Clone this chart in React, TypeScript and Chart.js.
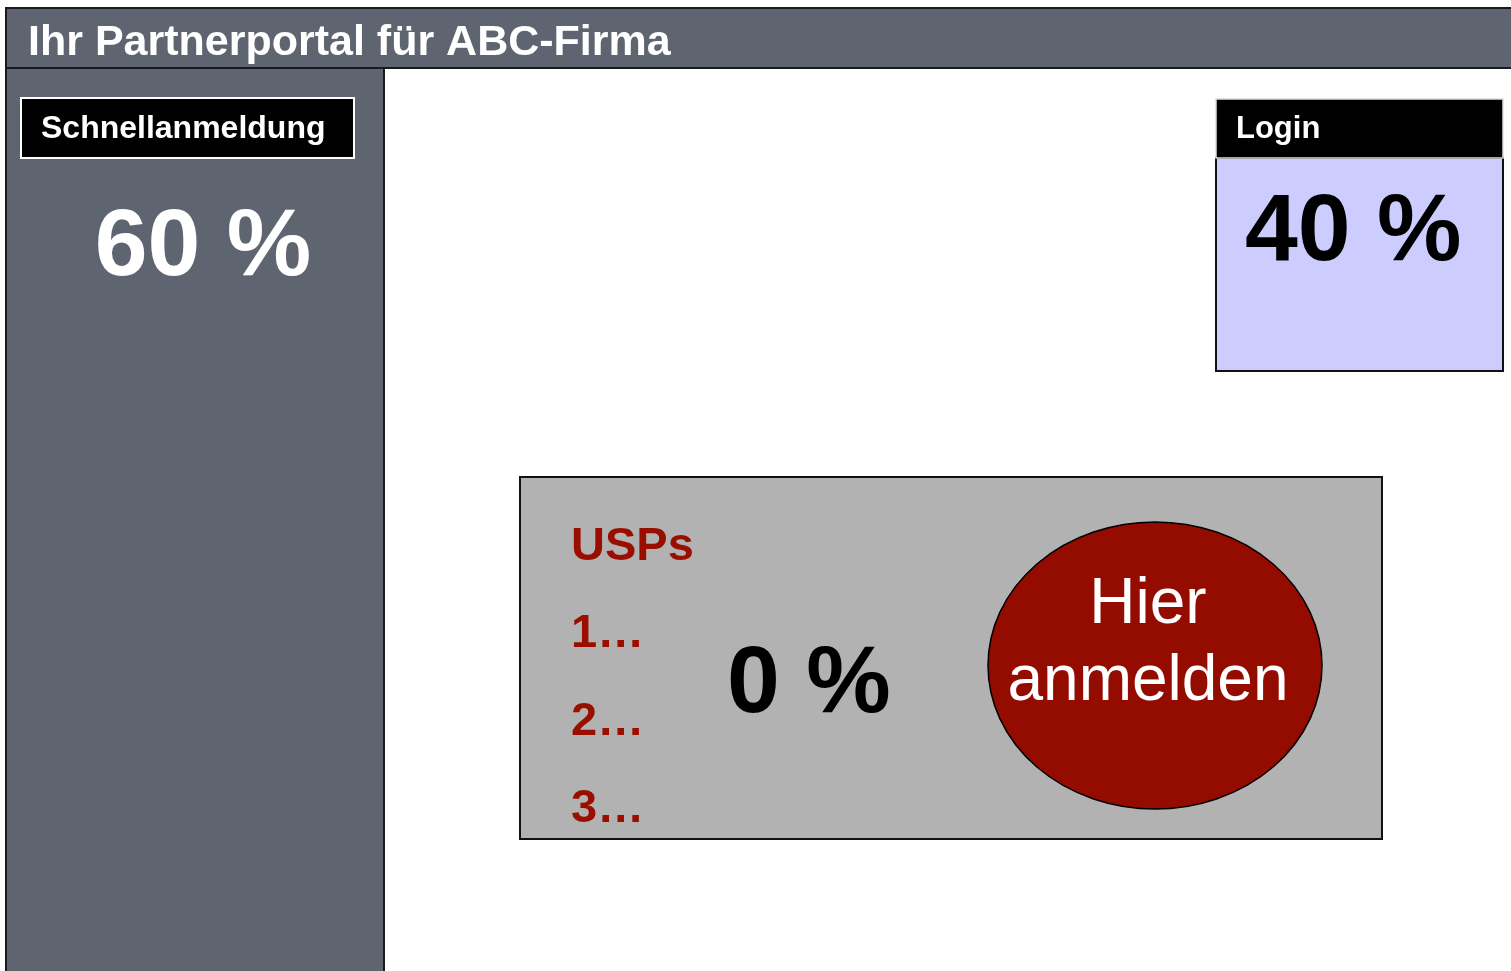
import React, { useEffect, useRef } from "react";
import { Chart, registerables } from "chart.js";

Chart.register(...registerables);

// ---- data ----
const pageTitle = "Ihr Partnerportal für ABC-Firma";
const regionLabels = ["Schnellanmeldung", "Login", "USPs"];
const attentionShare = [60, 40, 0];
const uspItems = ["1…", "2…", "3…"];
const buttonLines = ["Hier", "anmelden"];

// ---- layout (in canvas value units) ----
const W = 1511;
const H = 971;
const FONT = '"Liberation Sans", Arial, Helvetica, sans-serif';
const SLATE = "#5f6570";
const DARKRED = "#9a0e00";
const BUTTONRED = "#940b00";

const wireframePlugin = {
  id: "wireframe",
  beforeDatasetsDraw(chart: any) {
    const ctx: CanvasRenderingContext2D = chart.ctx;
    const xs = chart.scales.x;
    const ys = chart.scales.y;
    const px = (v: number) => xs.getPixelForValue(v);
    const py = (v: number) => ys.getPixelForValue(v);

    const rect = (x0: number, y0: number, x1: number, y1: number, fill: string, stroke: string | null, lw: number) => {
      const a = px(x0), b = py(y0), c = px(x1), d = py(y1);
      ctx.save();
      ctx.fillStyle = fill;
      ctx.fillRect(a, b, c - a, d - b);
      if (stroke) {
        ctx.strokeStyle = stroke;
        ctx.lineWidth = lw;
        ctx.strokeRect(a, b, c - a, d - b);
      }
      ctx.restore();
    };
    const text = (s: string, x: number, y: number, font: string, color: string, align: CanvasTextAlign = "left") => {
      ctx.save();
      ctx.font = font;
      ctx.fillStyle = color;
      ctx.textAlign = align;
      ctx.textBaseline = "alphabetic";
      ctx.fillText(s, px(x), py(y));
      ctx.restore();
    };

    // left panel + header
    rect(6, 68, 384, H + 5, SLATE, "#1a1a1a", 2);
    rect(6, 8, W + 5, 68, SLATE, "#1a1a1a", 2);
    text(pageTitle, 28, 55, `bold 43px ${FONT}`, "#ffffff");

    // Schnellanmeldung region
    rect(21, 98, 354, 158, "#000000", "#ffffff", 2);
    text(regionLabels[0], 41, 138, `bold 32px ${FONT}`, "#ffffff");
    text(`${attentionShare[0]} %`, 203, 275, `bold 95px ${FONT}`, "#ffffff", "center");

    // Login region
    rect(1216, 158, 1503, 371, "#ccccff", "#111111", 2);
    rect(1216, 99, 1503, 158, "#000000", "#dddddd", 1.5);
    text(regionLabels[1], 1236, 138, `bold 31px ${FONT}`, "#ffffff");
    text(`${attentionShare[1]} %`, 1245, 260, `bold 95px ${FONT}`, "#000000");

    // USPs region
    rect(520, 477, 1382, 839, "#b2b2b2", "#111111", 2);
    text(regionLabels[2], 571, 560, `bold 47px ${FONT}`, DARKRED);
    const itemBaselines = [647, 735, 822];
    uspItems.forEach((s, i) => text(s, 571, itemBaselines[i], `bold 47px ${FONT}`, DARKRED));
    text(`${attentionShare[2]} %`, 727, 712, `bold 95px ${FONT}`, "#000000");

    // button ellipse
    ctx.save();
    ctx.beginPath();
    const cx = px(1155), cy = py(665.5);
    const rx = px(1155 + 167) - cx, ry = py(665.5 + 143.5) - cy;
    ctx.ellipse(cx, cy, Math.abs(rx), Math.abs(ry), 0, 0, Math.PI * 2);
    ctx.fillStyle = BUTTONRED;
    ctx.fill();
    ctx.strokeStyle = "#000000";
    ctx.lineWidth = 1.5;
    ctx.stroke();
    ctx.restore();
    const lineBaselines = [623, 700];
    buttonLines.forEach((s, i) => text(s, 1148, lineBaselines[i], `64px ${FONT}`, "#ffffff", "center"));
  },
};

export default function App() {
  const ref = useRef<HTMLCanvasElement | null>(null);
  useEffect(() => {
    if (!ref.current) return;
    const chart = new Chart(ref.current, {
      type: "scatter",
      data: { datasets: [] },
      options: {
        responsive: false,
        animation: false,
        devicePixelRatio: 1,
        layout: { padding: 0 },
        plugins: { legend: { display: false }, tooltip: { enabled: false } },
        scales: {
          x: { type: "linear", min: 0, max: W, display: false },
          y: { type: "linear", min: 0, max: H, reverse: true, display: false },
        },
      },
      plugins: [wireframePlugin],
    } as any);
    return () => chart.destroy();
  }, []);
  return (
    <div style={{ position: "fixed", left: 0, top: 0, width: W, height: H, background: "#ffffff" }}>
      <canvas ref={ref} width={W} height={H} style={{ width: W, height: H, display: "block" }} />
    </div>
  );
}
